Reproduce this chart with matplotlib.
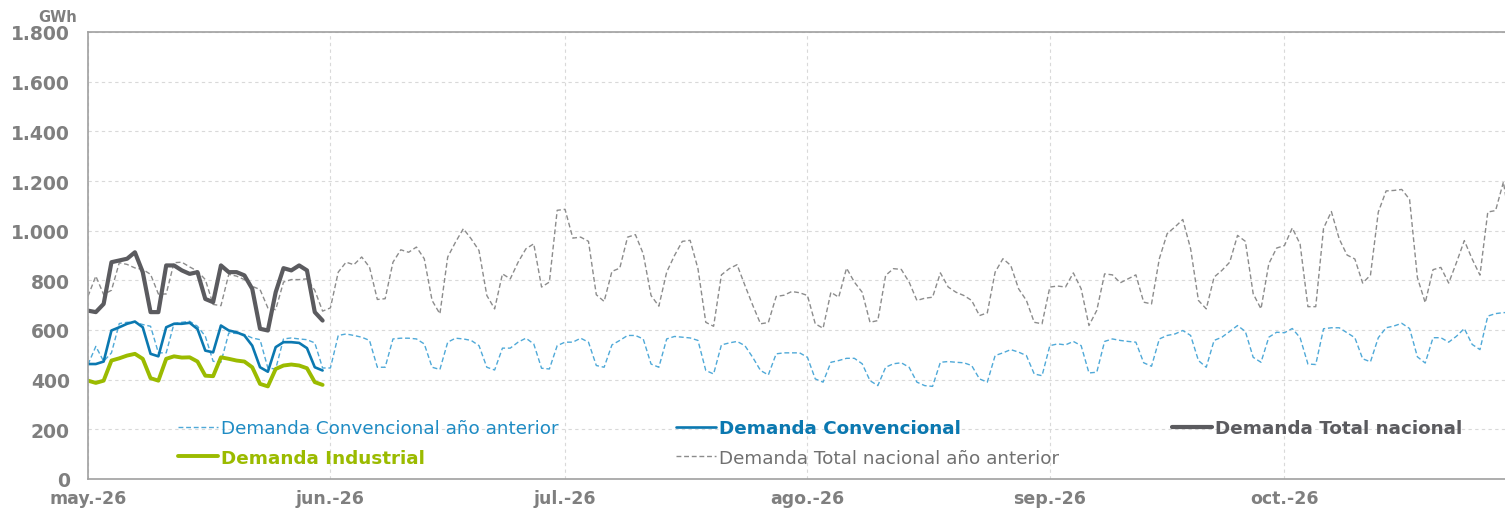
import numpy as np
import pandas as pd
import matplotlib
matplotlib.use("Agg")
import matplotlib.pyplot as plt

# ---------------- data (GWh, daily) ----------------
start_date = "2026-05-01"

total_actual = [678, 672, 705, 873, 880, 887, 913, 833, 672, 672,
                860, 860, 840, 826, 833, 725, 712, 860, 833, 833,
                820, 766, 605, 598, 752, 849, 840, 860, 840, 672, 638]
conv_actual = [463, 463, 473, 598, 611, 625, 634, 611, 504, 494,
               611, 625, 625, 629, 604, 517, 510, 618, 598, 591,
               578, 537, 450, 432, 531, 551, 551, 548, 527, 450, 437]
ind_actual = [396, 387, 396, 477, 486, 497, 504, 484, 406, 396,
              484, 494, 489, 490, 473, 416, 414, 490, 484, 477,
              473, 450, 383, 373, 443, 457, 461, 457, 446, 390, 379]

total_prev = [
    # May
    736, 817, 743, 760, 871, 864, 850, 844, 824, 745,
    745, 871, 873, 854, 837, 803, 703, 698, 824, 817,
    803, 776, 763, 689, 682, 793, 803, 803, 806, 760, 676,
    # Jun
    689, 833, 873, 863, 894, 853, 723, 726, 873, 923,
    913, 934, 887, 719, 665, 894, 954, 1008, 967, 920,
    739, 685, 826, 806, 873, 927, 947, 773, 793, 1082,
    # Jul
    1086, 970, 974, 957, 742, 715, 836, 849, 974, 984,
    907, 739, 696, 833, 900, 957, 961, 847, 631, 615,
    822, 847, 863, 780, 700, 625, 630, 735, 740, 755, 750,
    # Aug
    739, 625, 607, 752, 732, 849, 793, 752, 631, 638,
    820, 847, 844, 793, 719, 728, 732, 830, 773, 752,
    739, 719, 658, 669, 833, 887, 860, 766, 719, 631, 625,
    # Sep
    773, 777, 773, 830, 766, 618, 679, 826, 822, 790,
    806, 822, 712, 705, 887, 988, 1015, 1045, 927, 719,
    685, 813, 840, 873, 981, 957, 746, 685, 867, 930,
    # Oct
    940, 1011, 946, 694, 694, 1010, 1077, 967, 902, 886,
    789, 821, 1075, 1160, 1162, 1166, 1126, 811, 710, 843,
    852, 789, 872, 960, 886, 821, 1075, 1081, 1196, 1000,
]
conv_prev = [
    # May
    461, 534, 474, 508, 626, 631, 631, 622, 615, 508,
    508, 626, 631, 635, 615, 575, 474, 470, 588, 586,
    582, 568, 561, 447, 443, 564, 568, 564, 561, 548, 447,
    # Jun
    447, 578, 584, 578, 571, 558, 450, 450, 564, 567,
    567, 564, 544, 450, 441, 551, 567, 564, 558, 537,
    450, 439, 527, 527, 551, 567, 544, 446, 443, 537,
    # Jul
    551, 551, 567, 551, 457, 450, 540, 558, 578, 578,
    564, 463, 450, 564, 574, 571, 568, 558, 437, 423,
    540, 548, 554, 537, 490, 437, 419, 504, 508, 508, 508,
    # Aug
    490, 403, 390, 470, 477, 486, 486, 464, 396, 376,
    450, 464, 468, 450, 390, 376, 373, 470, 473, 470,
    468, 457, 403, 390, 497, 508, 521, 511, 497, 423, 416,
    # Sep
    537, 544, 540, 554, 537, 427, 430, 554, 564, 558,
    554, 551, 468, 454, 564, 578, 584, 598, 578, 477,
    450, 558, 571, 594, 618, 594, 490, 470, 571, 591,
    # Oct
    589, 606, 569, 463, 461, 605, 609, 609, 589, 569,
    484, 472, 569, 609, 616, 627, 606, 492, 467, 569,
    569, 551, 575, 606, 542, 521, 656, 666, 670, 670,
]

month_labels = ["may.-26", "jun.-26", "jul.-26", "ago.-26", "sep.-26", "oct.-26"]
y_ticks = [0, 200, 400, 600, 800, 1000, 1200, 1400, 1600, 1800]

# ---------------- style ----------------
C_TOTAL = "#5b5b5f"
C_CONV = "#0b78b0"
C_IND = "#9bbb00"
C_CONV_PREV = "#4fa9d8"
C_CONV_PREV_TXT = "#1f8cc4"
C_TOTAL_PREV = "#8c8c8c"
C_TOTAL_PREV_TXT = "#707070"
C_AXIS_TXT = "#7f7f7f"
C_GRID = "#d9d9d9"

plt.rcParams["font.family"] = ["DejaVu Sans"]

W, H = 1505, 510
fig = plt.figure(figsize=(W / 100, H / 100), dpi=100)
ax_left, ax_right, ax_top, ax_bottom = 88, 1505, 33, 480
ax = fig.add_axes([ax_left / W, 1 - ax_bottom / H,
                   (ax_right - ax_left) / W, (ax_bottom - ax_top) / H])

d0 = pd.Timestamp(start_date)
x_prev = pd.date_range(d0, periods=len(total_prev), freq="D")
x_act = pd.date_range(d0, periods=len(total_actual), freq="D")

dash = (3.5, 2.0)
l_conv_prev, = ax.plot(x_prev, conv_prev, color=C_CONV_PREV, lw=1.0,
                       linestyle=(0, dash), label="Demanda Convencional año anterior")
l_total_prev, = ax.plot(x_prev, total_prev, color=C_TOTAL_PREV, lw=1.0,
                        linestyle=(0, dash), label="Demanda Total nacional año anterior")
l_ind, = ax.plot(x_act, ind_actual, color=C_IND, lw=2.8, solid_joinstyle="round",
                 solid_capstyle="round", label="Demanda Industrial")
l_conv, = ax.plot(x_act, conv_actual, color=C_CONV, lw=1.9, solid_joinstyle="round",
                  solid_capstyle="round", label="Demanda Convencional")
l_total, = ax.plot(x_act, total_actual, color=C_TOTAL, lw=3.0, solid_joinstyle="round",
                   solid_capstyle="round", label="Demanda Total nacional")

# axes limits
days_span = (ax_right - ax_left) / 7.82
ax.set_xlim(d0, d0 + pd.Timedelta(days=days_span))
ax.set_ylim(0, 1800)

# ticks
month_starts = pd.date_range(d0, periods=len(month_labels), freq="MS")
ax.set_xticks(month_starts)
ax.set_xticklabels(month_labels)
ax.set_yticks(y_ticks)
ax.set_yticklabels([f"{v:,}".replace(",", ".") for v in y_ticks])
ax.tick_params(axis="both", length=0, colors=C_AXIS_TXT, labelsize=12.5)
ax.tick_params(axis="y", pad=13)
ax.tick_params(axis="x", pad=7.5)
for lab in ax.get_xticklabels() + ax.get_yticklabels():
    lab.set_fontweight("bold")
    lab.set_color(C_AXIS_TXT)
for lab in ax.get_yticklabels():
    lab.set_fontsize(13.5)

# grid
ax.grid(True, color=C_GRID, linestyle=(0, (3, 3)), linewidth=0.8)
ax.set_axisbelow(True)

for s in ["left", "bottom", "top"]:
    ax.spines[s].set_color("#a0a0a0")
    ax.spines[s].set_linewidth(1.2)
ax.spines["right"].set_visible(False)

fig.text(58 / W, 1 - 17 / H, "GWh", ha="center", va="center",
         fontsize=10.5, fontweight="bold", color=C_AXIS_TXT)

# legends (three columns placed in pixel positions)
def add_legend(handles, colors, bolds, x_px, y_px):
    leg = fig.legend(handles=handles, loc="upper left",
                     bbox_to_anchor=(x_px / W, 1 - y_px / H),
                     frameon=False, fontsize=13.2, handlelength=2.2,
                     handletextpad=0.15, borderpad=0, borderaxespad=0,
                     labelspacing=0.63)
    for t, c, b in zip(leg.get_texts(), colors, bolds):
        t.set_color(c)
        if b:
            t.set_fontweight("bold")
    return leg

add_legend([l_conv_prev, l_ind], [C_CONV_PREV_TXT, C_IND], [False, True], 178, 420)
add_legend([l_conv, l_total_prev], [C_CONV, C_TOTAL_PREV_TXT], [True, False], 676, 420)
add_legend([l_total], [C_TOTAL], [True], 1172, 420)

fig.savefig("out.png", dpi=100)
